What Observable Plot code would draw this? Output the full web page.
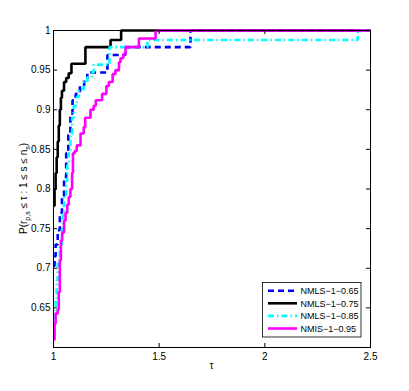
<!DOCTYPE html>
<html>
<head>
<meta charset="utf-8">
<script src="https://cdn.jsdelivr.net/npm/d3@7"></script>
<script src="https://cdn.jsdelivr.net/npm/@observablehq/plot@0.6"></script>
<style>
  html, body { margin: 0; padding: 0; background: #fff; }
  #chart svg { display: block; }
</style>
</head>
<body>
<div id="chart"></div>
<script>
// Series names (legend order = draw order)
const seriesNames = ["NMLS\u22121\u22120.65", "NMLS\u22121\u22120.75", "NMLS\u22121\u22120.85", "NMIS\u22121\u22120.95"];

// Performance-profile step points (tau, rho)
const tau65 = [1, 1.005, 1.01, 1.02, 1.03, 1.04, 1.05, 1.06, 1.07, 1.08, 1.09, 1.105, 1.125, 1.145, 1.16, 1.255, 1.34, 1.648, 2.5];
const rho65 = [0.703, 0.715, 0.73, 0.748, 0.77, 0.79, 0.815, 0.845, 0.868, 0.895, 0.912, 0.92, 0.93, 0.939, 0.947, 0.969, 0.979, 1, 1];

const tau75 = [1, 1.005, 1.01, 1.015, 1.02, 1.025, 1.03, 1.035, 1.04, 1.05, 1.06, 1.072, 1.085, 1.151, 1.27, 1.32, 2.5];
const rho75 = [0.779, 0.80, 0.82, 0.84, 0.86, 0.88, 0.90, 0.915, 0.924, 0.935, 0.94, 0.946, 0.958, 0.979, 0.988, 1, 1];

const tau85 = [1, 1.005, 1.01, 1.015, 1.02, 1.03, 1.04, 1.045, 1.05, 1.06, 1.065, 1.072, 1.08, 1.088, 1.096, 1.11, 1.12, 1.143, 1.16, 1.18, 1.19, 1.265, 1.445, 2.44, 2.5];
const rho85 = [0.62, 0.64, 0.66, 0.685, 0.71, 0.73, 0.75, 0.77, 0.79, 0.81, 0.83, 0.845, 0.87, 0.89, 0.905, 0.916, 0.926, 0.935, 0.941, 0.947, 0.957, 0.979, 0.988, 1, 1];

const tau95 = [1, 1.005, 1.01, 1.02, 1.025, 1.03, 1.035, 1.041, 1.05, 1.057, 1.065, 1.072, 1.08, 1.088, 1.092, 1.10, 1.11, 1.128, 1.143, 1.15, 1.175, 1.19, 1.20, 1.23, 1.25, 1.262, 1.28, 1.293, 1.31, 1.317, 1.33, 1.341, 1.404, 1.483, 2.5];
const rho95 = [0.61, 0.63, 0.643, 0.648, 0.67, 0.71, 0.735, 0.745, 0.76, 0.77, 0.78, 0.79, 0.80, 0.82, 0.845, 0.848, 0.855, 0.87, 0.878, 0.89, 0.90, 0.905, 0.912, 0.92, 0.93, 0.935, 0.945, 0.95, 0.96, 0.965, 0.97, 0.979, 0.990, 1, 1];

// Axis ticks
const xTicks = [1, 1.5, 2, 2.5];
const yTicks = [0.65, 0.7, 0.75, 0.8, 0.85, 0.9, 0.95, 1];
const xDomain = [1, 2.5];
const yDomain = [0.6, 1];

// Styles
const colors = ["#0000ff", "#000000", "#00ffff", "#ff00ff"];
const dashes = ["6,4", null, "6,3,1.5,3", null];

const taus = [tau65, tau75, tau85, tau95];
const rhos = [rho65, rho75, rho85, rho95];
const rows = [];
seriesNames.forEach((name, i) => {
  taus[i].forEach((t, j) => rows.push({series: name, tau: t, rho: rhos[i][j], idx: i}));
});

const W = 409, H = 391, mL = 53, mR = 39, mT = 30, mB = 44;
const pw = W - mL - mR, ph = H - mT - mB;
const font = "'Liberation Sans', Arial, Helvetica, sans-serif";

const lineMarks = seriesNames.map((name, i) =>
  Plot.line(rows.filter(d => d.idx === i), {
    x: "tau", y: "rho", curve: "step-after",
    stroke: colors[i], strokeWidth: 2.6,
    strokeDasharray: dashes[i] || undefined,
    strokeLinejoin: "miter", strokeLinecap: "butt"
  })
);

const chart = Plot.plot({
  width: W, height: H,
  marginLeft: mL, marginRight: mR, marginTop: mT, marginBottom: mB,
  style: {fontFamily: font, fontSize: "10px", background: "#fff", color: "#000"},
  x: {domain: xDomain, ticks: xTicks, tickFormat: d => String(d), label: null},
  y: {domain: yDomain, ticks: yTicks, tickFormat: d => String(d), label: null},
  marks: [
    ...lineMarks,
    Plot.frame({stroke: "#000", strokeWidth: 1}),
    Plot.axisX({ticks: xTicks, tickFormat: d => String(d), tickSize: 0, tickPadding: 5, label: null, fontSize: 10}),
    Plot.axisY({ticks: yTicks, tickFormat: d => String(d), tickSize: 0, tickPadding: 3, label: null, fontSize: 10}),
    // inward ticks on all four sides
    Plot.tickX(xTicks, {x: d => d, insetTop: ph - 4, stroke: "#000"}),
    Plot.tickX(xTicks, {x: d => d, insetBottom: ph - 4, stroke: "#000"}),
    Plot.tickY(yTicks, {y: d => d, insetRight: pw - 4, stroke: "#000"}),
    Plot.tickY(yTicks, {y: d => d, insetLeft: pw - 4, stroke: "#000"})
  ]
});

document.getElementById("chart").appendChild(chart);

const svg = d3.select(chart);

// x label
svg.append("text")
  .attr("x", mL + pw / 2).attr("y", 369)
  .attr("text-anchor", "middle")
  .attr("font-family", font).attr("font-size", 10)
  .text("\u03c4");

// y label with subscripts
const yl = svg.append("text")
  .attr("transform", `translate(27,${mT + ph / 2}) rotate(-90)`)
  .attr("text-anchor", "middle")
  .attr("font-family", font).attr("font-size", 10);
yl.append("tspan").text("P(r");
yl.append("tspan").attr("dy", 3).attr("font-size", 7).text("p,s");
yl.append("tspan").attr("dy", -3).text(" \u2264 \u03c4 : 1 \u2264 s \u2264 n");
yl.append("tspan").attr("dy", 3).attr("font-size", 7).text("s");
yl.append("tspan").attr("dy", -3).text(")");

// legend
const lg = svg.append("g").attr("text-anchor", "start");
lg.append("rect")
  .attr("x", 262.5).attr("y", 282.5).attr("width", 98.5).attr("height", 54.5)
  .attr("fill", "#fff").attr("stroke", "#000").attr("stroke-width", 0.8);
const rowY = [290.8, 303.3, 315.9, 328.5];
seriesNames.forEach((name, i) => {
  lg.append("line")
    .attr("x1", 268).attr("x2", 297).attr("y1", rowY[i]).attr("y2", rowY[i])
    .attr("stroke", colors[i]).attr("stroke-width", 2.6)
    .attr("stroke-dasharray", dashes[i]);
  lg.append("text")
    .attr("x", 300.5).attr("y", rowY[i] + 3.2)
    .attr("text-anchor", "start")
    .attr("font-family", font).attr("font-size", 9)
    .text(name);
});
</script>
</body>
</html>
